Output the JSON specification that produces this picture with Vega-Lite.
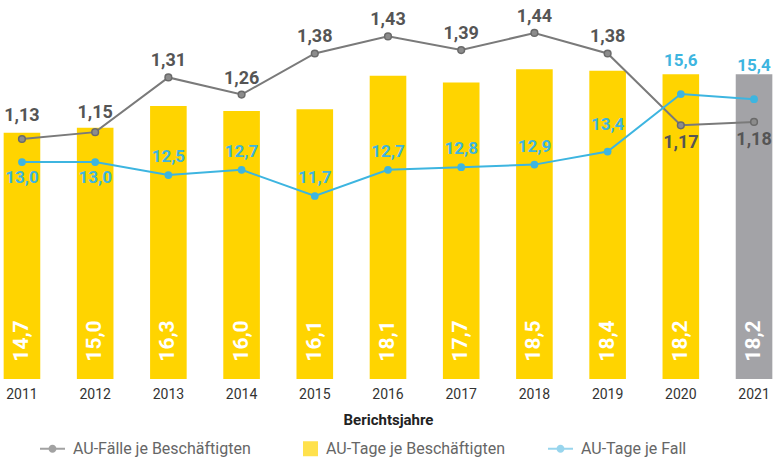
{
  "$schema": "https://vega.github.io/schema/vega-lite/v6.json",
  "width": 776,
  "height": 379,
  "autosize": {"type": "none"},
  "padding": {"left": 0, "right": 0, "top": 0, "bottom": 79},
  "config": {
    "view": {"stroke": null},
    "font": "Roboto",
    "locale": {"number": {"decimal": ",", "thousands": ".", "grouping": [3], "currency": ["", " €"]}}
  },
  "datasets": {
    "jahre": [
      {"year": "2011", "tage_besch": 14.7, "faelle": 1.13, "tage_fall": 13.0},
      {"year": "2012", "tage_besch": 15.0, "faelle": 1.15, "tage_fall": 13.0},
      {"year": "2013", "tage_besch": 16.3, "faelle": 1.31, "tage_fall": 12.5},
      {"year": "2014", "tage_besch": 16.0, "faelle": 1.26, "tage_fall": 12.7},
      {"year": "2015", "tage_besch": 16.1, "faelle": 1.38, "tage_fall": 11.7},
      {"year": "2016", "tage_besch": 18.1, "faelle": 1.43, "tage_fall": 12.7},
      {"year": "2017", "tage_besch": 17.7, "faelle": 1.39, "tage_fall": 12.8},
      {"year": "2018", "tage_besch": 18.5, "faelle": 1.44, "tage_fall": 12.9},
      {"year": "2019", "tage_besch": 18.4, "faelle": 1.38, "tage_fall": 13.4},
      {"year": "2020", "tage_besch": 18.2, "faelle": 1.17, "tage_fall": 15.6},
      {"year": "2021", "tage_besch": 18.2, "faelle": 1.18, "tage_fall": 15.4}
    ],
    "legende": [
      {"series": "AU-Fälle je Beschäftigten"},
      {"series": "AU-Tage je Beschäftigten"},
      {"series": "AU-Tage je Fall"}
    ]
  },
  "data": {"name": "jahre"},
  "encoding": {
    "x": {
      "field": "year",
      "type": "nominal",
      "scale": {"paddingInner": 0.5, "paddingOuter": 0.05},
      "axis": {
        "labelAngle": 0,
        "ticks": false,
        "domain": false,
        "grid": false,
        "labelFontSize": 14,
        "labelColor": "#333333",
        "labelPadding": 8,
        "title": "Berichtsjahre",
        "titleFontSize": 15,
        "titleFontWeight": "bold",
        "titleColor": "#222222",
        "titlePadding": 11
      }
    }
  },
  "layer": [
    {
      "encoding": {
        "y": {"field": "tage_besch", "type": "quantitative", "scale": {"domain": [0, 22.63], "nice": false, "zero": true}, "axis": null}
      },
      "layer": [
        {
          "mark": {"type": "bar"},
          "encoding": {
            "color": {"condition": {"test": "datum.year === '2021'", "value": "#A3A3A7"}, "value": "#FFD400"}
          }
        },
        {
          "mark": {"type": "text", "angle": 270, "dx": 38, "align": "center", "baseline": "middle", "fontSize": 21, "fontWeight": "bold", "color": "#ffffff"},
          "encoding": {
            "y": {"datum": 0},
            "text": {"field": "tage_besch", "type": "quantitative", "format": ".1f"}
          }
        }
      ]
    },
    {
      "encoding": {
        "y": {"field": "faelle", "type": "quantitative", "scale": {"domain": [0.4282, 1.5364], "nice": false, "zero": false}, "axis": null}
      },
      "layer": [
        {"mark": {"type": "line", "color": "#7a7a7a", "strokeWidth": 2}},
        {"mark": {"type": "point", "filled": true, "size": 45, "fill": "#8c8c8c", "stroke": "#6a6a6a", "strokeWidth": 1.5, "opacity": 1}},
        {
          "transform": [{"filter": {"field": "year", "oneOf": ["2011"]}}],
          "mark": {"type": "text", "dy": -23, "baseline": "middle", "fontSize": 18, "fontWeight": "bold", "color": "#555555"},
          "encoding": {"text": {"field": "faelle", "type": "quantitative", "format": ".2f"}}
        },
        {
          "transform": [{"filter": {"field": "year", "oneOf": ["2012"]}}],
          "mark": {"type": "text", "dy": -19, "baseline": "middle", "fontSize": 18, "fontWeight": "bold", "color": "#555555"},
          "encoding": {"text": {"field": "faelle", "type": "quantitative", "format": ".2f"}}
        },
        {
          "transform": [{"filter": {"not": {"field": "year", "oneOf": ["2011", "2012", "2020", "2021"]}}}],
          "mark": {"type": "text", "dy": -16, "baseline": "middle", "fontSize": 18, "fontWeight": "bold", "color": "#555555"},
          "encoding": {"text": {"field": "faelle", "type": "quantitative", "format": ".2f"}}
        },
        {
          "transform": [{"filter": {"field": "year", "oneOf": ["2020", "2021"]}}],
          "mark": {"type": "text", "dy": 18, "baseline": "middle", "fontSize": 18, "fontWeight": "bold", "color": "#555555"},
          "encoding": {"text": {"field": "faelle", "type": "quantitative", "format": ".2f"}}
        },
        {
          "data": {"name": "legende"},
          "mark": {"type": "point", "filled": true, "clip": true},
          "encoding": {
            "x": {"datum": "2011"},
            "y": {"datum": 9},
            "color": {
              "field": "series",
              "type": "nominal",
              "scale": {"domain": ["AU-Fälle je Beschäftigten", "AU-Tage je Beschäftigten", "AU-Tage je Fall"], "range": ["#7b7b7b", "#FFD400", "#6CC3E6"]},
              "legend": {"orient": "none", "legendX": 40, "legendY": 436, "direction": "horizontal", "title": null, "labelFontSize": 16, "labelColor": "#666666", "labelLimit": 400, "symbolSize": 625, "columnPadding": 42, "labelOffset": 8, "padding": 0, "symbolStrokeWidth": 0}
            },
            "shape": {
              "field": "series",
              "type": "nominal",
              "scale": {"domain": ["AU-Fälle je Beschäftigten", "AU-Tage je Beschäftigten", "AU-Tage je Fall"], "range": ["M-1,-0.08H1V0.08H-1Z M0.32,0A0.32,0.32 0 1 1 -0.32,0A0.32,0.32 0 1 1 0.32,0Z", "M-0.2,-0.6H1V0.6H-0.2Z", "M-1,-0.08H1V0.08H-1Z M0.32,0A0.32,0.32 0 1 1 -0.32,0A0.32,0.32 0 1 1 0.32,0Z"]},
              "legend": {"orient": "none", "legendX": 40, "legendY": 436, "direction": "horizontal", "title": null, "labelFontSize": 16, "labelColor": "#666666", "labelLimit": 400, "symbolSize": 625, "columnPadding": 42, "labelOffset": 8, "padding": 0, "symbolStrokeWidth": 0}
            }
          }
        }
      ]
    },
    {
      "encoding": {
        "y": {"field": "tage_fall", "type": "quantitative", "scale": {"domain": [4.702, 19.195], "nice": false, "zero": false}, "axis": null}
      },
      "layer": [
        {"mark": {"type": "line", "color": "#3DB5E0", "strokeWidth": 2}},
        {"mark": {"type": "point", "filled": true, "size": 60, "color": "#3DB5E0", "opacity": 1}},
        {
          "transform": [{"filter": {"field": "year", "oneOf": ["2011", "2012"]}}],
          "mark": {"type": "text", "dy": 16, "baseline": "middle", "fontSize": 17, "fontWeight": "bold", "color": "#3DB5E0"},
          "encoding": {"text": {"field": "tage_fall", "type": "quantitative", "format": ".1f"}}
        },
        {
          "transform": [{"filter": {"field": "year", "oneOf": ["2019"]}}],
          "mark": {"type": "text", "dy": -27, "baseline": "middle", "fontSize": 17, "fontWeight": "bold", "color": "#3DB5E0"},
          "encoding": {"text": {"field": "tage_fall", "type": "quantitative", "format": ".1f"}}
        },
        {
          "transform": [{"filter": {"field": "year", "oneOf": ["2020", "2021"]}}],
          "mark": {"type": "text", "dy": -33, "baseline": "middle", "fontSize": 17, "fontWeight": "bold", "color": "#3DB5E0"},
          "encoding": {"text": {"field": "tage_fall", "type": "quantitative", "format": ".1f"}}
        },
        {
          "transform": [{"filter": {"not": {"field": "year", "oneOf": ["2011", "2012", "2019", "2020", "2021"]}}}],
          "mark": {"type": "text", "dy": -18, "baseline": "middle", "fontSize": 17, "fontWeight": "bold", "color": "#3DB5E0"},
          "encoding": {"text": {"field": "tage_fall", "type": "quantitative", "format": ".1f"}}
        }
      ]
    }
  ],
  "resolve": {"scale": {"y": "independent"}}
}
